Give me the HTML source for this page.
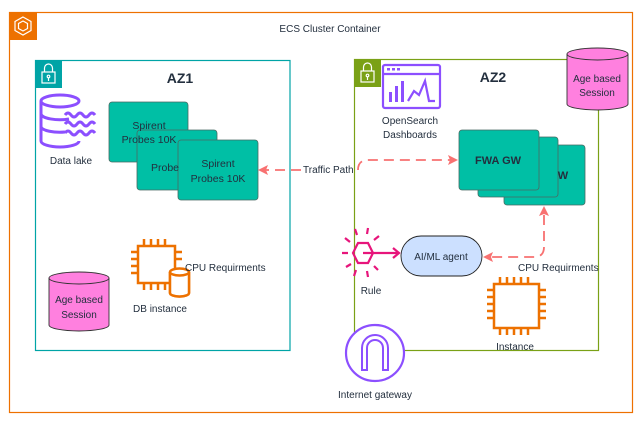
<!DOCTYPE html>
<html><head><style>
body{margin:0;background:#fff;}
svg{display:block;font-family:"Liberation Sans",sans-serif;}
</style></head><body>
<svg width="643" height="430" viewBox="0 0 643 430" xmlns="http://www.w3.org/2000/svg">
<!-- outer -->
<rect x="9.5" y="12.5" width="623" height="400" fill="none" stroke="#ED7100" stroke-width="1.2"/>
<rect x="9" y="12" width="28" height="28" fill="#ED7100"/>
<g fill="none" stroke="#fff" stroke-width="1.2"><polygon points="23,17 31,21.5 31,30.5 23,35 15,30.5 15,21.5"/><polygon points="23,21 27.5,23.5 27.5,28.5 23,31 18.5,28.5 18.5,23.5"/></g>
<text x="330" y="32" font-size="10" fill="#232F3E" text-anchor="middle">ECS Cluster Container</text>

<!-- AZ1 -->
<rect x="35.5" y="60.5" width="254.5" height="290" fill="none" stroke="#00A4A6" stroke-width="1.2"/>
<rect x="35" y="60" width="27" height="28" fill="#00A4A6"/>
<g fill="none" stroke="#fff" stroke-width="1.2"><rect x="42" y="72" width="13" height="11"/><path d="M44.5 72v-4a4 4 0 0 1 8 0v4"/><circle cx="48.5" cy="76.5" r="1.3"/><path d="M48.5 78v3"/></g>
<text x="180" y="83" font-size="14" font-weight="bold" fill="#232F3E" text-anchor="middle">AZ1</text>

<!-- Data lake -->
<g fill="none" stroke="#8C4FFF" stroke-width="3">
<ellipse cx="60" cy="101" rx="19" ry="6"/>
<path d="M41 101v40a19 6 0 0 0 38 0"/>
<path d="M41 114a19 6 0 0 0 28 5"/><path d="M41 127a19 6 0 0 0 24 5"/>
<path d="M65 115q3 -4 6 0t6 0t6 0t6 0t6 0M65 124q3 -4 6 0t6 0t6 0t6 0t6 0M65 133q3 -4 6 0t6 0t6 0t6 0t6 0"/>
</g>
<text x="71" y="164" font-size="10" fill="#232F3E" text-anchor="middle">Data lake</text>

<!-- Spirent boxes -->
<g stroke="#4a6a62" stroke-width="0.8" fill="#00BFA5">
<rect x="109" y="102" width="79" height="60" rx="3"/>
<rect x="137" y="130" width="80" height="60" rx="3"/>
<rect x="178" y="140" width="80" height="60" rx="3"/>
</g>
<g font-size="10.5" fill="#232F3E" text-anchor="middle">
<text x="149" y="129">Spirent</text><text x="149" y="143">Probes 10K</text>
<text x="165" y="171">Probe</text>
<text x="218" y="167">Spirent</text><text x="218" y="182">Probes 10K</text>
</g>

<!-- traffic path -->
<g stroke="#F87171" stroke-width="1.8" fill="none" stroke-dasharray="10 6">
<path d="M301 170H262"/>
<path d="M358 170q0-10 10-10H450"/>
</g>
<polygon points="258,170 268,165 266,170 268,175" fill="#F87171"/>
<polygon points="458,160 448,155 450,160 448,165" fill="#F87171"/>
<text x="303" y="173" font-size="10" fill="#232F3E">Traffic Path</text>

<!-- AZ1 bottom -->
<path d="M49 278v47a30 6 0 0 0 60 0v-47" fill="#FF80DF" stroke="#333" stroke-width="0.9"/>
<ellipse cx="79" cy="278" rx="30" ry="6" fill="#FF80DF" stroke="#333" stroke-width="0.9"/>
<text x="79" y="303" font-size="10" fill="#232F3E" text-anchor="middle">Age based</text>
<text x="79" y="318" font-size="10" fill="#232F3E" text-anchor="middle">Session</text>

<g fill="none" stroke="#ED7100" stroke-width="2.5">
<rect x="138" y="246" width="37" height="37"/>
<path d="M144 246v-7M151 246v-7M158 246v-7M165 246v-7M144 283v7M151 283v7M158 283v7M165 283v7M138 252h-7M138 259h-7M138 266h-7M138 273h-7M175 252h7M175 259h7"/>
<path d="M170 272v21a9.5 3.5 0 0 0 19 0v-21"/>
</g>
<path d="M170 272v21a9.5 3.5 0 0 0 19 0v-21" fill="#fff" stroke="#ED7100" stroke-width="2.5"/>
<ellipse cx="179.5" cy="272" rx="9.5" ry="3.5" fill="#fff" stroke="#ED7100" stroke-width="2.5"/>
<text x="185" y="271" font-size="10" fill="#232F3E">CPU Requirments</text>
<text x="160" y="312" font-size="10" fill="#232F3E" text-anchor="middle">DB instance</text>

<!-- AZ2 -->
<rect x="354.5" y="59.5" width="244" height="291" fill="none" stroke="#7AA116" stroke-width="1.2"/>
<rect x="354" y="59" width="27" height="28" fill="#7AA116"/>
<g fill="none" stroke="#fff" stroke-width="1.2"><rect x="361" y="71" width="13" height="11"/><path d="M363.5 71v-4a4 4 0 0 1 8 0v4"/><circle cx="367.5" cy="75.5" r="1.3"/><path d="M367.5 77v3"/></g>
<text x="493" y="82" font-size="14" font-weight="bold" fill="#232F3E" text-anchor="middle">AZ2</text>

<!-- OpenSearch -->
<g fill="none" stroke="#8C4FFF" stroke-width="2.2">
<rect x="383" y="65" width="57" height="43" rx="2"/><path d="M383 74h57"/>
</g>
<g fill="#8C4FFF"><rect x="387" y="68" width="3" height="2.5"/><rect x="392" y="68" width="3" height="2.5"/><rect x="397" y="68" width="3" height="2.5"/>
<rect x="389" y="92" width="3" height="10"/><rect x="395" y="86" width="3" height="16"/><rect x="401" y="81" width="3" height="21"/></g>
<path d="M408 101l6-10 5 4 6-14 4 20h6" fill="none" stroke="#8C4FFF" stroke-width="2.2"/>
<text x="410" y="124" font-size="10" fill="#232F3E" text-anchor="middle">OpenSearch</text>
<text x="410" y="138" font-size="10" fill="#232F3E" text-anchor="middle">Dashboards</text>

<!-- right cylinder -->
<path d="M567 54v50a30.5 6 0 0 0 61 0v-50" fill="#FF80DF" stroke="#333" stroke-width="0.9"/>
<ellipse cx="597.5" cy="54" rx="30.5" ry="6" fill="#FF80DF" stroke="#333" stroke-width="0.9"/>
<text x="597" y="82" font-size="10" fill="#232F3E" text-anchor="middle">Age based</text>
<text x="597" y="96" font-size="10" fill="#232F3E" text-anchor="middle">Session</text>

<!-- FWA boxes -->
<g stroke="#4a6a62" stroke-width="0.8" fill="#00BFA5">
<rect x="504" y="145" width="81" height="60" rx="3"/>
<rect x="478" y="137" width="80" height="60" rx="3"/>
<rect x="459" y="130" width="80" height="60" rx="3"/>
</g>
<text x="498" y="164" font-size="11" font-weight="bold" fill="#232F3E" text-anchor="middle">FWA GW</text>
<text x="563" y="179" font-size="11" font-weight="bold" fill="#232F3E" text-anchor="middle">W</text>

<!-- dashed CPU path -->
<path d="M544 215v32q0 10-10 10H492" fill="none" stroke="#F87171" stroke-width="1.8" stroke-dasharray="10 6"/>
<polygon points="544,206 539,216 544,214 549,216" fill="#F87171"/>
<polygon points="483,257 493,252 491,257 493,262" fill="#F87171"/>

<!-- AI/ML agent -->
<rect x="401" y="236" width="81" height="40" rx="20" fill="#CCE0FF" stroke="#222" stroke-width="0.9"/>
<text x="441" y="260" font-size="10" fill="#232F3E" text-anchor="middle">AI/ML agent</text>

<!-- Rule icon -->
<g stroke="#E7157B" stroke-width="2.2" fill="none">
<polygon points="358,243 368,243 373,253 368,263 358,263 353,253"/>
<path d="M363 253h36M393 248l6 5-6 5"/>
<path d="M355 229l2 6M368 228l-1 6M379 236l-5 4M345 238l5 4M342 253h6M346 267l5-3M354 276l2-6M368 277l-1-6M378 270l-4-4"/>
</g>
<text x="371" y="294" font-size="10" fill="#232F3E" text-anchor="middle">Rule</text>
<text x="518" y="271" font-size="10" fill="#232F3E">CPU Requirments</text>

<!-- Instance -->
<g fill="none" stroke="#ED7100" stroke-width="2.5">
<rect x="494" y="284" width="45" height="44"/>
<path d="M500 284v-7M507 284v-7M514 284v-7M521 284v-7M528 284v-7M500 328v7M507 328v7M514 328v7M521 328v7M528 328v7M494 290h-7M494 297h-7M494 304h-7M494 311h-7M494 318h-7M539 290h7M539 297h7M539 304h7M539 311h7M539 318h7"/>
</g>
<text x="515" y="350" font-size="10" fill="#232F3E" text-anchor="middle">Instance</text>

<!-- Internet gateway -->
<ellipse cx="375" cy="353" rx="29" ry="28" fill="#fff" stroke="#8C4FFF" stroke-width="2.2"/>
<path d="M362 370v-22a13 13 0 0 1 26 0v22h-5v-22a8 8 0 0 0-16 0v22z" fill="none" stroke="#8C4FFF" stroke-width="2"/>
<text x="375" y="398" font-size="10" fill="#232F3E" text-anchor="middle">Internet gateway</text>
</svg>
</body></html>
